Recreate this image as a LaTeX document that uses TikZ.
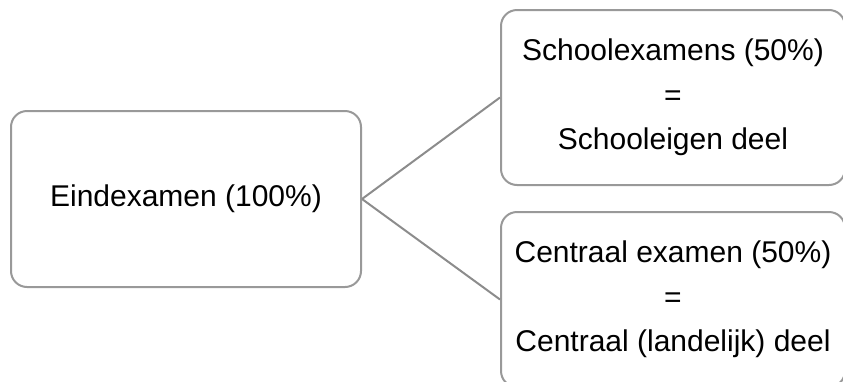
\documentclass[tikz,border=0pt]{standalone}
\usepackage{fontspec}
\setmainfont{Liberation Sans}
\definecolor{boxgray}{HTML}{999999}
\definecolor{linegray}{HTML}{8C8C8C}
\tikzset{
  rbox/.style={draw=boxgray, line width=2pt, rounded corners=16pt, fill=white,
    align=center, inner sep=0pt, font=\fontsize{30}{44.5}\selectfont},
  link/.style={draw=linegray, line width=2pt}
}
\begin{document}
\begin{tikzpicture}[x=1pt,y=-1pt]
\useasboundingbox (0,0) rectangle (843,381);
\clip (0,0) rectangle (843,381);
\node[rbox, minimum width=350pt, minimum height=176pt] (root) at (186,199) {Eindexamen (100\%)};
\node[rbox, minimum width=344pt, minimum height=175pt] (se) at (673,97.5) {Schoolexamens (50\%)\\=\\Schooleigen deel};
\node[rbox, minimum width=344pt, minimum height=175pt] (ce) at (673,299.5) {Centraal examen (50\%)\\=\\Centraal (landelijk) deel};
\draw[link] (root.east) -- (se.west);
\draw[link] (root.east) -- (ce.west);
\end{tikzpicture}
\end{document}
